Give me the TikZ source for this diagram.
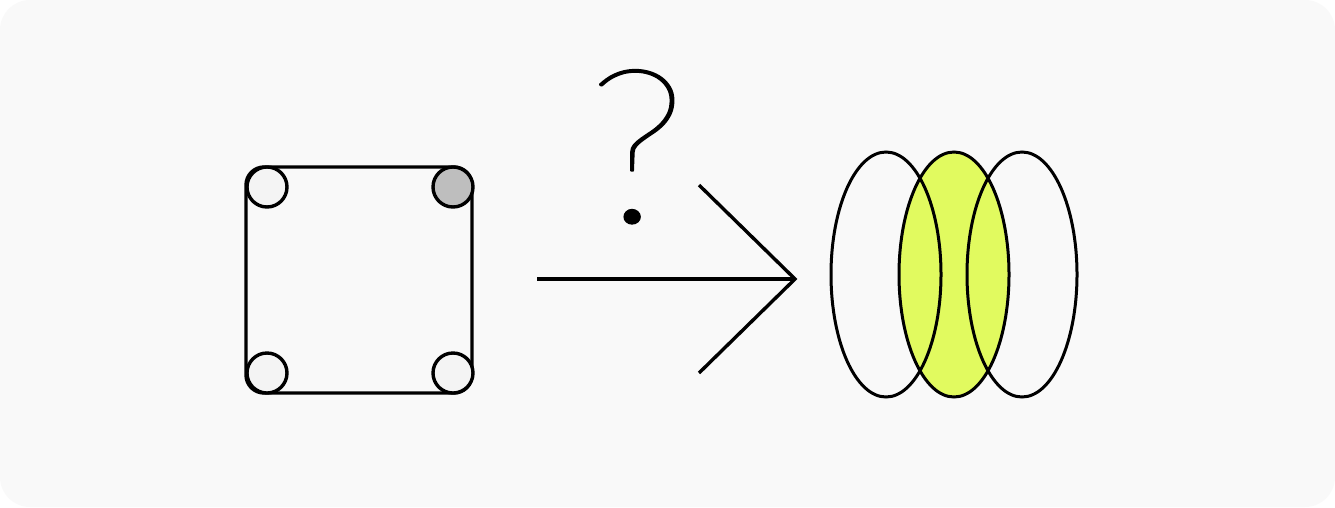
\documentclass[tikz,border=0pt]{standalone}
\usepackage{fontspec}
\usetikzlibrary{positioning}
\usetikzlibrary{shapes.geometric}
\newif\ifqfound
\newcommand{\tryqfont}[1]{\ifqfound\else\IfFontExistsTF{#1}{\newfontfamily\qmarkfont{#1}\qfoundtrue}{}\fi}
\tryqfont{Fira Sans Hair}
\tryqfont{FiraSans-Hair}
\tryqfont{Lato Hairline}
\tryqfont{Fira Sans Thin}
\tryqfont{FiraSans-Thin}
\tryqfont{Lato Thin}
\tryqfont{Poppins Thin}
\tryqfont{Fira Sans ExtraLight}
\tryqfont{Poppins ExtraLight}
\tryqfont{Fira Sans Light}
\tryqfont{Lato Light}
\ifqfound\else\newfontfamily\qmarkfont{Fira Sans}\fi
\newcommand{\boldstroke}[1]{\special{pdf:literal direct 2 Tr 1.8 w 1 j}#1\special{pdf:literal direct 0 Tr}}
\definecolor{panel}{HTML}{F9F9F9}
\definecolor{pinlight}{HTML}{F4F4F4}
\definecolor{pindark}{HTML}{BEBEBE}
\definecolor{lime}{HTML}{E1FA5F}
\tikzstyle{frame} = [rectangle,draw=black,fill=panel,line width=3.4pt,rounded corners=18pt,minimum size=226pt,inner sep=0pt,outer sep=0pt]
\tikzstyle{pin} = [circle,draw=black,fill=pinlight,line width=3.4pt,minimum size=40pt,inner sep=0pt,outer sep=0pt]
\tikzstyle{lobe} = [ellipse,draw=black,line width=3pt,minimum width=110pt,minimum height=245pt,inner sep=0pt,outer sep=0pt]
\tikzstyle{link} = [draw=black,line width=3.4pt]

\begin{document}
\begin{tikzpicture}[x=1pt,y=-1pt]
\useasboundingbox (0,0) rectangle (1335,507);
\fill[white] (0,0) rectangle (1335,507);
\fill[panel, rounded corners=30pt] (0,0) rectangle (1335,507);

% Define nodes
\node[frame]                                       (sq)  at (359,280) {};
\node[pin]                                         (tl)  at ([shift={(21,20)}]sq.north west) {};
\node[pin, fill=pindark]                           (tr)  at ([shift={(-19,20)}]sq.north east) {};
\node[pin]                                         (bl)  at ([shift={(21,-20)}]sq.south west) {};
\node[pin]                                         (br)  at ([shift={(-19,-20)}]sq.south east) {};

\node[lobe, fill=lime]                             (mid)   at (954,274.5) {};
\node[lobe]                                        (left)  at ([xshift=-68pt]mid.center) {};
\node[lobe]                                        (right) at ([xshift=68pt]mid.center) {};

\node[anchor=base, inner sep=0pt, font=\qmarkfont\fontsize{215}{215}\selectfont] (ask) at (637,222) {\boldstroke{\scalebox{1.1}[1]{?}}};

\coordinate (tail) at ([shift={(65,-1)}]sq.east);
\coordinate (tip)  at ([shift={(-36,4.5)}]left.west);
\coordinate (hu)   at ([shift={(-96,-94)}]tip);
\coordinate (hl)   at ([shift={(-96,94)}]tip);

% Edges
\draw[link] (tail) -- (tip);%
\draw[link] (hu) -- (tip) -- (hl);%
\end{tikzpicture}
\end{document}
